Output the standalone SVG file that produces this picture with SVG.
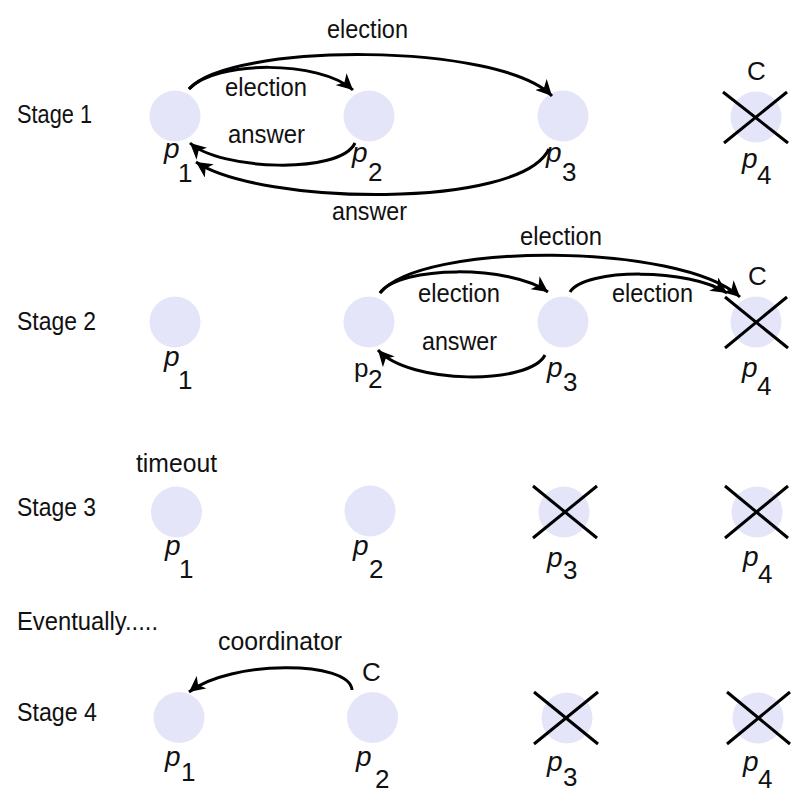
<svg xmlns="http://www.w3.org/2000/svg" width="810" height="810" viewBox="0 0 810 810">
  <defs>
    <style>
      .proc { fill: #e5e5fa; stroke: none; }
      .cross { stroke: #000; stroke-width: 3; stroke-linecap: butt; }
      .lbl { font-family: "Liberation Sans", Arial, sans-serif; font-size: 26px; fill: #111; }
      .pn { font-family: "Liberation Sans", Arial, sans-serif; font-size: 28px; font-style: italic; fill: #111; }
      .pup { font-family: "Liberation Sans", Arial, sans-serif; font-size: 26px; fill: #111; }
      .sub { font-size: 26px; font-style: normal; }
      .msg { fill: none; stroke: #000; stroke-width: 3; marker-end: url(#head); }
    </style>
    <marker id="head" markerUnits="userSpaceOnUse" markerWidth="18" markerHeight="16" refX="16" refY="8" orient="auto">
      <path d="M0,0 L16,8 L0,16 L4.5,8 z" fill="#000"/>
    </marker>
  </defs>
  <rect width="810" height="810" fill="#fff"/>

  <!-- stage captions -->
  <g id="captions">
    <text class="lbl" x="17" y="123" textLength="75" lengthAdjust="spacingAndGlyphs">Stage 1</text>
    <text class="lbl" x="17" y="330" textLength="79" lengthAdjust="spacingAndGlyphs">Stage 2</text>
    <text class="lbl" x="17" y="516" textLength="79" lengthAdjust="spacingAndGlyphs">Stage 3</text>
    <text class="lbl" x="17" y="630" textLength="141" lengthAdjust="spacingAndGlyphs">Eventually.....</text>
    <text class="lbl" x="17" y="721" textLength="80" lengthAdjust="spacingAndGlyphs">Stage 4</text>
  </g>

  <!-- Stage 1 processes -->
  <g id="s1-p1">
    <circle class="proc" cx="175" cy="116" r="25.5"/>
    <text class="pn" x="164" y="158">p<tspan class="sub" x="178" y="182">1</tspan></text>
  </g>
  <g id="s1-p2">
    <circle class="proc" cx="369" cy="116" r="25.5"/>
    <text class="pn" x="352" y="162">p<tspan class="sub" x="368" y="181">2</tspan></text>
  </g>
  <g id="s1-p3">
    <circle class="proc" cx="563" cy="116" r="25.5"/>
    <text class="pn" x="546" y="162">p<tspan class="sub" x="562" y="181">3</tspan></text>
  </g>
  <g id="s1-p4">
    <circle class="proc" cx="756" cy="117" r="25.5"/>
    <line class="cross" x1="723" y1="92" x2="788" y2="143"/>
    <line class="cross" x1="787" y1="92" x2="724" y2="143"/>
    <text class="lbl" x="747" y="80">C</text>
    <text class="pn" x="742" y="168">p<tspan class="sub" x="757" y="184">4</tspan></text>
  </g>

  <!-- Stage 2 processes -->
  <g id="s2-p1">
    <circle class="proc" cx="175" cy="322" r="25.5"/>
    <text class="pn" x="164" y="366">p<tspan class="sub" x="178" y="389">1</tspan></text>
  </g>
  <g id="s2-p2">
    <circle class="proc" cx="369" cy="322" r="25.5"/>
    <text class="pup" x="354" y="377">p<tspan x="368" y="388">2</tspan></text>
  </g>
  <g id="s2-p3">
    <circle class="proc" cx="563" cy="322" r="25.5"/>
    <text class="pn" x="547" y="377">p<tspan class="sub" x="563" y="391">3</tspan></text>
  </g>
  <g id="s2-p4">
    <circle class="proc" cx="756" cy="322" r="25.5"/>
    <line class="cross" x1="725" y1="297" x2="788" y2="348"/>
    <line class="cross" x1="787" y1="297" x2="725" y2="348"/>
    <text class="lbl" x="748" y="285">C</text>
    <text class="pn" x="742" y="377">p<tspan class="sub" x="757" y="395">4</tspan></text>
  </g>

  <!-- Stage 3 processes -->
  <g id="s3-p1">
    <circle class="proc" cx="176.5" cy="512" r="25.5"/>
    <text class="lbl" x="136" y="472" textLength="81" lengthAdjust="spacingAndGlyphs">timeout</text>
    <text class="pn" x="165" y="555">p<tspan class="sub" x="179" y="578">1</tspan></text>
  </g>
  <g id="s3-p2">
    <circle class="proc" cx="370" cy="511" r="25.5"/>
    <text class="pn" x="353" y="555">p<tspan class="sub" x="369" y="578">2</tspan></text>
  </g>
  <g id="s3-p3">
    <circle class="proc" cx="564" cy="512" r="25.5"/>
    <line class="cross" x1="533" y1="486" x2="597" y2="538"/>
    <line class="cross" x1="597" y1="486" x2="533" y2="538"/>
    <text class="pn" x="547" y="567">p<tspan class="sub" x="563" y="579">3</tspan></text>
  </g>
  <g id="s3-p4">
    <circle class="proc" cx="757" cy="512" r="25.5"/>
    <line class="cross" x1="725" y1="486" x2="788" y2="538"/>
    <line class="cross" x1="788" y1="486" x2="725" y2="538"/>
    <text class="pn" x="743" y="566">p<tspan class="sub" x="758" y="583">4</tspan></text>
  </g>

  <!-- Stage 4 processes -->
  <g id="s4-p1">
    <circle class="proc" cx="179" cy="717.5" r="25.5"/>
    <text class="pn" x="165" y="766">p<tspan class="sub" x="181" y="781">1</tspan></text>
  </g>
  <g id="s4-p2">
    <circle class="proc" cx="372.5" cy="717.5" r="25.5"/>
    <text class="lbl" x="362" y="681">C</text>
    <text class="pn" x="356" y="766">p<tspan class="sub" x="375" y="788">2</tspan></text>
  </g>
  <g id="s4-p3">
    <circle class="proc" cx="567" cy="718" r="25.5"/>
    <line class="cross" x1="534" y1="692" x2="598" y2="744"/>
    <line class="cross" x1="598" y1="692" x2="534" y2="744"/>
    <text class="pn" x="547" y="771">p<tspan class="sub" x="563" y="786">3</tspan></text>
  </g>
  <g id="s4-p4">
    <circle class="proc" cx="758" cy="718" r="25.5"/>
    <line class="cross" x1="727" y1="692" x2="790" y2="744"/>
    <line class="cross" x1="790" y1="692" x2="727" y2="744"/>
    <text class="pn" x="743" y="771">p<tspan class="sub" x="758" y="788">4</tspan></text>
  </g>

  <!-- messages -->
  <g id="connectors">
    <path class="msg" d="M189,89 C230,42 500,42 552,96"/>
    <path class="msg" d="M189,89 C215,60 320,60 353,90"/>
    <path class="msg" d="M355,143 C340,175 220,170 190,143"/>
    <path class="msg" d="M549,149 C520,210 260,205 196,162"/>

    <path class="msg" d="M380,293 C420,242 680,242 740,297"/>
    <path class="msg" d="M380,293 C400,265 510,265 548,292"/>
    <path class="msg" d="M570,292 C585,268 690,268 727,293"/>
    <path class="msg" d="M545,355 C530,385 410,385 378,350"/>

    <path class="msg" d="M352,690 C350,660 230,660 189,692"/>
  </g>

  <!-- message labels -->
  <g id="connector-labels">
    <text class="lbl" x="327" y="38" textLength="81" lengthAdjust="spacingAndGlyphs">election</text>
    <text class="lbl" x="225" y="96" textLength="82" lengthAdjust="spacingAndGlyphs">election</text>
    <text class="lbl" x="228" y="143" textLength="77" lengthAdjust="spacingAndGlyphs">answer</text>
    <text class="lbl" x="332" y="220" textLength="75" lengthAdjust="spacingAndGlyphs">answer</text>

    <text class="lbl" x="520" y="245" textLength="82" lengthAdjust="spacingAndGlyphs">election</text>
    <text class="lbl" x="418" y="302" textLength="82" lengthAdjust="spacingAndGlyphs">election</text>
    <text class="lbl" x="612" y="302" textLength="81" lengthAdjust="spacingAndGlyphs">election</text>
    <text class="lbl" x="422" y="350" textLength="75" lengthAdjust="spacingAndGlyphs">answer</text>

    <text class="lbl" x="218" y="650" textLength="124" lengthAdjust="spacingAndGlyphs">coordinator</text>
  </g>
</svg>
